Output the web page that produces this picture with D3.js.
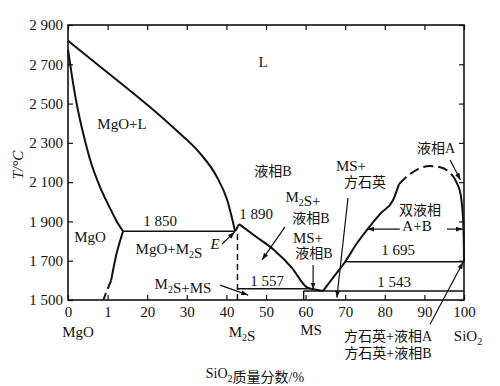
<!DOCTYPE html>
<html>
<head>
<meta charset="utf-8">
<script src="https://cdn.jsdelivr.net/npm/d3@7"></script>
<style>
  body { margin: 0; background: #fff; }
  svg text { font-family: "Liberation Serif", "Times New Roman", "Noto Sans CJK SC", serif; fill: #111; }
</style>
</head>
<body>
<div id="chart"></div>
<script>
// axis ticks
const xTicks = [0, 10, 20, 30, 40, 50, 60, 70, 80, 90, 100];
const xTickLabels = ["0", "1", "20", "30", "40", "50", "60", "70", "80", "90", "100"];
const yTicks = [1500, 1700, 1900, 2100, 2300, 2500, 2700, 2900];
const yTickLabels = ["1 500", "1 700", "1 900", "2 100", "2 300", "2 500", "2 700", "2 900"];

// phase boundaries [SiO2 %, T °C]
const mgoLiquidus = [[0, 2820], [8, 2690], [20.7, 2482], [27, 2370], [33.3, 2248], [37.5, 2130], [40.2, 2009], [42.2, 1850]];
const mgoSolvus = [[0, 2775], [1, 2640], [2, 2520], [3, 2420], [4, 2335], [5.6, 2213], [8.1, 2075], [10.6, 1968], [12.5, 1893], [13.9, 1850]];
const mgoSolvusLow = [[13.9, 1850], [12.3, 1739], [10.9, 1600]];
const mgoSolvusLowDash = [[10.9, 1600], [9.9, 1550], [8.9, 1500]];
const m2sPeak = [[42.2, 1850], [43.2, 1886]];
const m2sLiquidus = [[43.2, 1886], [47.5, 1822], [52.3, 1750], [56.5, 1665], [60.3, 1565], [61.3, 1557]];
const msEutectic = [[61.3, 1557], [64.4, 1546]];
const silicaLiquidus = [[64.4, 1546], [67, 1615], [70, 1695], [73, 1790], [75.8, 1865], [79, 1942], [82.1, 2009], [83.6, 2090]];
const domeDash = [[83.6, 2090], [86, 2135], [88.5, 2168], [91.4, 2182], [94, 2176], [96, 2156], [97.4, 2126]];
const domeRight = [[97.4, 2126], [98.9, 2060], [99.6, 1960], [99.9, 1840], [100, 1695]];
const m2sLine = [[42.8, 1500], [42.8, 1850]];
const msLine = [[59.5, 1500], [59.5, 1546]];

// isotherms: [T, from %, to %]
const isoT = [1850, 1557, 1546, 1695];
const isoFrom = [13.9, 42.8, 59.5, 70];
const isoTo = [42.2, 61.3, 100, 100];

const width = 500, height = 386;
const x = d3.scaleLinear().domain([0, 100]).range([68, 464]);
const y = d3.scaleLinear().domain([1500, 2900]).range([300, 25]);

const svg = d3.select("#chart").append("svg")
  .attr("width", width).attr("height", height);

svg.append("defs").append("marker")
  .attr("id", "arr").attr("viewBox", "0 0 10 10")
  .attr("refX", 10).attr("refY", 5)
  .attr("markerWidth", 7).attr("markerHeight", 7)
  .attr("markerUnits", "userSpaceOnUse")
  .attr("orient", "auto")
  .append("path").attr("d", "M0,1.5L10,5L0,8.5Z").attr("fill", "#111");

// axes, ticks inward
const tickIdx = (arr, labels) => d => labels[arr.indexOf(d)];
svg.append("g").attr("transform", `translate(0,${y(1500)})`)
  .call(d3.axisBottom(x).tickValues(xTicks).tickFormat(tickIdx(xTicks, xTickLabels))
    .tickSizeInner(-5).tickSizeOuter(0).tickPadding(6))
  .call(g => g.select(".domain").remove())
  .call(g => g.selectAll("text").attr("font-size", 15));

svg.append("g").attr("transform", `translate(${x(0)},0)`)
  .call(d3.axisLeft(y).tickValues(yTicks).tickFormat(tickIdx(yTicks, yTickLabels))
    .tickSizeInner(-5).tickSizeOuter(0).tickPadding(5))
  .call(g => g.select(".domain").remove())
  .call(g => g.selectAll("text").attr("font-size", 15));

svg.append("g").attr("transform", `translate(0,${y(2900)})`)
  .call(d3.axisTop(x).tickValues(xTicks).tickFormat("").tickSizeInner(-5).tickSizeOuter(0))
  .call(g => g.select(".domain").remove());

svg.append("g").attr("transform", `translate(${x(100)},0)`)
  .call(d3.axisRight(y).tickValues(yTicks).tickFormat("").tickSizeInner(-5).tickSizeOuter(0))
  .call(g => g.select(".domain").remove());

svg.selectAll(".tick line").attr("stroke", "#111").attr("stroke-width", 1.2);

svg.append("rect")
  .attr("x", x(0)).attr("y", y(2900))
  .attr("width", x(100) - x(0)).attr("height", y(1500) - y(2900))
  .attr("fill", "none").attr("stroke", "#111").attr("stroke-width", 1.6);

// curves
const smooth = d3.line().x(d => x(d[0])).y(d => y(d[1])).curve(d3.curveMonotoneX);
const curve = d3.line().x(d => x(d[0])).y(d => y(d[1])).curve(d3.curveCatmullRom.alpha(0.5));
const straight = d3.line().x(d => x(d[0])).y(d => y(d[1]));

const solidCurves = [mgoLiquidus, mgoSolvus, m2sLiquidus, silicaLiquidus];
svg.selectAll(".bound").data(solidCurves).enter().append("path")
  .attr("class", "bound").attr("d", smooth)
  .attr("fill", "none").attr("stroke", "#111").attr("stroke-width", 2);

svg.selectAll(".bound2").data([mgoSolvusLow, domeRight]).enter().append("path")
  .attr("class", "bound2").attr("d", curve)
  .attr("fill", "none").attr("stroke", "#111").attr("stroke-width", 2);

svg.selectAll(".seg").data([m2sPeak, msEutectic]).enter().append("path")
  .attr("class", "seg").attr("d", straight)
  .attr("fill", "none").attr("stroke", "#111").attr("stroke-width", 2);

svg.append("path").datum(mgoSolvusLowDash).attr("d", curve)
  .attr("fill", "none").attr("stroke", "#111").attr("stroke-width", 2).attr("stroke-dasharray", "9,5");
svg.append("path").datum(domeDash).attr("d", smooth)
  .attr("fill", "none").attr("stroke", "#111").attr("stroke-width", 2).attr("stroke-dasharray", "10,5");
svg.append("path").datum(m2sLine).attr("d", straight)
  .attr("fill", "none").attr("stroke", "#111").attr("stroke-width", 1.5).attr("stroke-dasharray", "6,4");
svg.append("path").datum(msLine).attr("d", straight)
  .attr("fill", "none").attr("stroke", "#111").attr("stroke-width", 1.5);

svg.selectAll(".iso").data(isoT).enter().append("line")
  .attr("class", "iso")
  .attr("x1", (d, i) => x(isoFrom[i])).attr("x2", (d, i) => x(isoTo[i]))
  .attr("y1", d => y(d)).attr("y2", d => y(d))
  .attr("stroke", "#111").attr("stroke-width", 1.6);

// annotation arrows [from, to] in data coords
const arrows = [
  [[38.9, 1785], [42.1, 1846]],
  [[54.8, 1872], [49.0, 1704]],
  [[61.9, 1678], [61.9, 1553]],
  [[70.7, 2019], [67.9, 1512]],
  [[96.5, 2213], [99.1, 2111]],
  [[83.8, 1861], [75.6, 1861]],
  [[95.7, 1861], [99.7, 1861]],
  [[38.4, 1576], [45.5, 1525]],
  [[91.4, 1375], [99.8, 1693]]
];
svg.selectAll(".arrow").data(arrows).enter().append("line")
  .attr("x1", d => x(d[0][0])).attr("y1", d => y(d[0][1]))
  .attr("x2", d => x(d[1][0])).attr("y2", d => y(d[1][1]))
  .attr("stroke", "#111").attr("stroke-width", 1.2)
  .attr("marker-end", "url(#arr)");

// text with _2 subscripts
function label(px, py, str, opts = {}) {
  const t = svg.append("text").attr("x", px).attr("y", py)
    .attr("text-anchor", opts.anchor || "middle")
    .attr("font-size", opts.size || 15);
  if (opts.italic) t.attr("font-style", "italic");
  str.split(/(_\d)/).forEach(part => {
    if (!part) return;
    if (part[0] === "_") {
      t.append("tspan").attr("dy", 4).attr("font-size", 10).text(part.slice(1));
      t.append("tspan").attr("dy", -4).text("");
    } else {
      t.append("tspan").text(part);
    }
  });
  return t;
}

label(263, 67, "L");
label(122, 129, "MgO+L");
label(90, 242, "MgO");
label(160, 226, "1 850");
label(169, 254, "MgO+M_2S");
label(215, 249, "E", { italic: true });
label(256, 219, "1 890");
label(273, 176, "液相B", { size: 14 });
label(303, 202, "M_2S+");
label(311, 223, "液相B", { size: 14 });
label(308, 243, "MS+");
label(314, 258, "液相B", { size: 14 });
label(351, 171, "MS+");
label(365, 187, "方石英", { size: 14 });
label(436, 153, "液相A", { size: 14 });
label(420, 215, "双液相", { size: 14 });
label(417, 231, "A+B");
label(398, 255, "1 695");
label(394, 287, "1 543");
label(267, 286, "1 557");
label(183, 289, "M_2S+MS");
label(388, 341, "方石英+液相A", { size: 14 });
label(388, 358, "方石英+液相B", { size: 14 });
label(78, 337, "MgO");
label(242, 337, "M_2S");
label(311, 335, "MS");
label(468, 341, "SiO_2");
label(255, 378, "SiO_2质量分数/%", { size: 14 });

svg.append("text")
  .attr("transform", "translate(23,165) rotate(-90)")
  .attr("text-anchor", "middle").attr("font-size", 15).attr("font-style", "italic")
  .text("T/°C");
</script>
</body>
</html>
